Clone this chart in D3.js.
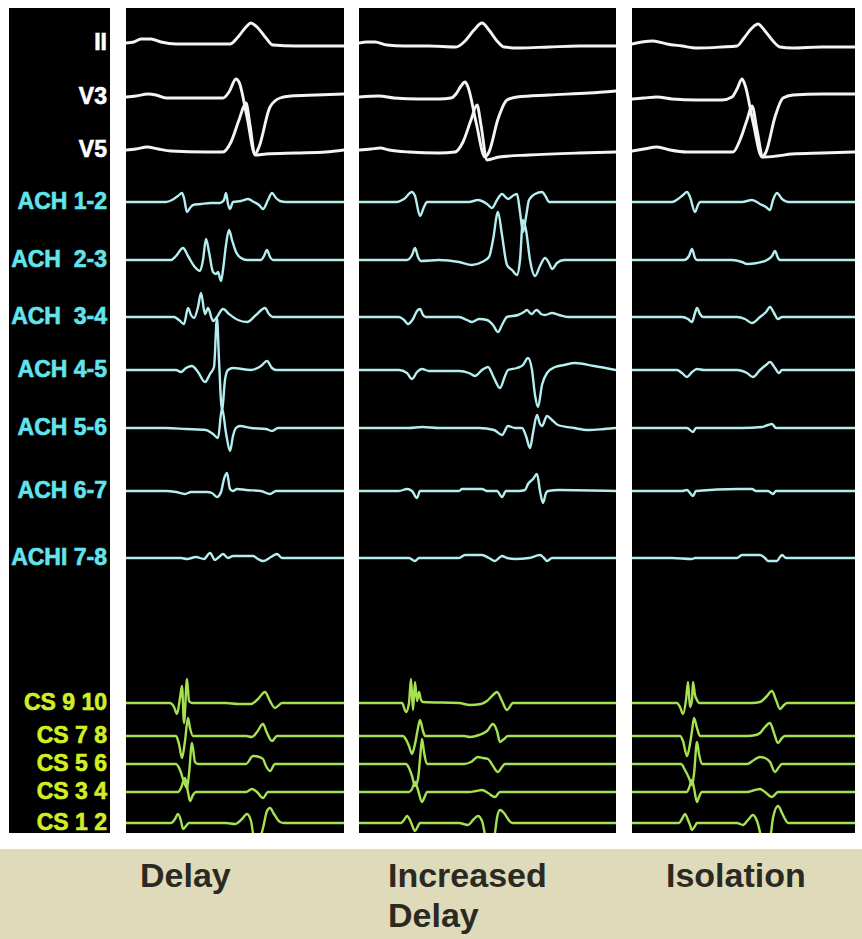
<!DOCTYPE html>
<html>
<head>
<meta charset="utf-8">
<script src="https://cdn.jsdelivr.net/npm/d3@7"></script>
<style>
body { margin: 0; background: #fff; }
svg { display: block; }
</style>
</head>
<body>
<svg id="chart" width="862" height="939"></svg>
<script>
// channel names, top to bottom
var channels = ["II", "V3", "V5", "ACH 1-2", "ACH  2-3", "ACH  3-4", "ACH 4-5", "ACH 5-6",
  "ACH 6-7", "ACHI 7-8", "CS 9 10", "CS 7 8", "CS 5 6", "CS 3 4", "CS 1 2"]
var channelGroup = ["ecg", "ecg", "ecg", "ach", "ach", "ach", "ach", "ach", "ach", "ach",
  "cs", "cs", "cs", "cs", "cs"]

var panelTitles = [["Delay"], ["Increased", "Delay"], ["Isolation"]]
var sweepMs = [218, 257, 223]

// each trace = list of [ms, amplitude] (one per channel)
var delayTraces = [
  [[0,0],[8,1],[15,4],[25,4],[35,1],[50,-1],[80,-1],[104,-1],[112,6],[120,16],[125,20],[131,16],[140,5],[147,-2],[170,-3],[190,-3],[218,-3]],
  [[0,0],[10,1],[22,3],[30,2],[40,-1],[70,-1],[97,-1],[103,5],[110,18],[113,15],[121,-20],[129,-57],[133,-50],[144,-10],[154,-1],[165,1],[190,2],[218,3]],
  [[0,0],[10,1],[21,3],[32,1],[45,-1],[80,-2],[97,-2],[105,8],[113,30],[120,47],[124,25],[129,-5],[140,-4],[170,-3],[200,-2],[218,0]],
  [[0,0],[40,0],[46,2],[52,6],[56,9],[58,4],[61,-10],[64,-6],[67,-3],[75,-2],[85,-1],[94,-1],[98,2],[100,9],[102,-2],[104,-7],[107,0],[115,1],[122,3],[128,0],[133,-3],[137,-7],[142,2],[146,9],[150,4],[154,1],[160,0],[218,0]],
  [[0,0],[45,0],[50,4],[57,12],[62,4],[68,-6],[74,-11],[77,0],[80,21],[83,8],[87,-12],[90,-14],[92,-12],[95,-21],[97,-10],[100,15],[103,30],[106,20],[110,8],[115,2],[121,0],[135,0],[138,4],[141,10],[144,3],[147,0],[218,0]],
  [[0,0],[48,0],[53,-3],[58,-7],[62,9],[65,2],[68,-1],[72,10],[75,24],[79,3],[82,9],[87,-4],[91,0],[97,8],[103,3],[112,-3],[121,-5],[130,2],[139,9],[143,3],[147,0],[218,0]],
  [[0,0],[50,0],[55,-2],[60,2],[66,4],[72,-2],[79,-12],[84,-4],[88,3],[91,52],[93,10],[96,-40],[99,-10],[102,0],[107,2],[125,0],[135,4],[141,9],[146,2],[150,0],[218,0]],
  [[0,0],[40,0],[60,-1],[80,-2],[87,-6],[92,-10],[96,20],[100,-5],[104,-23],[107,-8],[110,0],[114,2],[125,0],[140,-1],[146,-3],[152,0],[218,0]],
  [[0,0],[40,0],[50,-1],[59,-3],[65,-1],[81,-1],[86,-2],[91,-6],[95,-1],[98,12],[101,18],[104,2],[107,0],[111,2],[120,1],[135,0],[144,-3],[150,0],[218,0]],
  [[0,0],[40,0],[55,0],[61,-1],[70,1],[78,-1],[84,5],[89,-2],[93,1],[97,4],[102,0],[107,2],[127,2],[132,-1],[137,-3],[145,1],[151,4],[156,0],[218,0]],
  [[0,0],[44,0],[48,-4],[51,-11],[54,5],[56,17],[58,-20],[61,24],[63,2],[66,0],[100,0],[112,-1],[125,-1],[132,4],[139,11],[144,2],[149,-5],[156,0],[218,0]],
  [[0,0],[50,0],[53,-8],[56,-22],[59,-5],[62,18],[64,8],[67,0],[120,0],[126,-1],[131,4],[137,12],[141,3],[146,-5],[151,0],[218,0]],
  [[0,0],[50,0],[54,-6],[58,-18],[61,-24],[63,-10],[66,21],[69,2],[72,0],[120,0],[127,8],[133,7],[137,5],[140,-2],[144,-7],[149,0],[218,0]],
  [[0,0],[52,0],[55,4],[59,14],[62,0],[64,-9],[67,-3],[70,0],[120,0],[126,3],[131,0],[137,-6],[142,0],[218,0]],
  [[0,0],[45,0],[49,4],[52,9],[55,2],[57,-6],[60,-3],[63,0],[100,0],[109,-1],[116,4],[121,9],[125,2],[129,-20],[132,-20],[137,-5],[141,12],[144,15],[148,9],[154,1],[158,0],[218,0]]
]

var increasedTraces = [
  [[0,0],[8,1],[16,1],[28,-2],[45,-3],[70,-3],[97,-4],[105,1],[115,13],[123,20],[130,13],[138,2],[145,-4],[160,-5],[190,-4],[220,-3],[257,-3]],
  [[0,0],[20,1],[35,-1],[60,-2],[80,-2],[92,-1],[97,3],[102,11],[106,15],[109,10],[117,-25],[126,-60],[130,-55],[139,-22],[148,-3],[158,0],[190,2],[230,4],[257,6]],
  [[0,0],[12,1],[21,2],[30,0],[50,-2],[80,-3],[96,-2],[104,8],[112,30],[118,45],[122,25],[128,-10],[140,-7],[170,-5],[220,-3],[257,-2]],
  [[0,0],[38,0],[45,3],[53,10],[56,6],[61,-14],[65,-5],[68,0],[110,0],[119,2],[128,-2],[133,-6],[138,2],[143,8],[149,3],[155,7],[158,8],[161,-10],[164,-30],[167,-15],[170,2],[176,8],[183,10],[187,5],[190,0],[257,0]],
  [[0,0],[48,0],[53,5],[56,12],[59,3],[62,-1],[80,0],[100,-2],[113,-5],[123,-2],[130,3],[134,20],[139,48],[143,25],[148,-5],[153,-10],[158,-15],[161,0],[164,40],[167,30],[171,0],[176,-16],[181,-6],[186,2],[190,-3],[193,-9],[198,-3],[205,0],[257,0]],
  [[0,0],[40,0],[45,-3],[49,-7],[54,-2],[58,6],[61,8],[64,2],[67,0],[100,0],[108,-3],[113,-5],[120,-2],[128,-3],[134,-8],[139,-15],[143,-8],[148,0],[159,2],[165,5],[168,7],[171,4],[173,3],[176,6],[178,7],[182,3],[186,2],[193,4],[200,2],[209,0],[257,0]],
  [[0,0],[40,0],[48,-3],[53,-9],[58,-2],[63,1],[70,-1],[100,-1],[110,-3],[116,-6],[123,0],[129,3],[135,-8],[141,-18],[146,-6],[149,0],[158,2],[164,5],[169,12],[173,0],[176,-25],[179,-37],[183,-15],[188,-3],[196,3],[205,5],[216,7],[235,4],[257,0]],
  [[0,0],[50,0],[63,1],[80,0],[120,0],[135,-2],[143,-7],[149,2],[156,0],[163,0],[167,-8],[171,-20],[174,-5],[178,13],[181,4],[183,2],[188,12],[193,8],[199,3],[215,0],[229,-2],[245,-1],[257,0]],
  [[0,0],[40,0],[48,2],[53,0],[58,-7],[61,0],[100,0],[103,2],[123,2],[128,0],[138,0],[143,-6],[147,0],[160,0],[166,1],[169,7],[174,12],[178,17],[181,0],[184,-12],[187,-2],[189,0],[200,1],[257,0]],
  [[0,0],[50,0],[56,-3],[60,0],[100,0],[106,3],[123,3],[130,0],[136,-3],[140,0],[143,2],[148,0],[156,-1],[170,0],[181,3],[185,0],[188,-3],[193,0],[257,0]],
  [[0,0],[43,0],[47,-9],[50,0],[52,24],[54,-7],[56,21],[58,2],[60,11],[62,3],[64,1],[100,0],[111,-2],[122,-1],[128,2],[134,8],[138,11],[143,2],[148,-7],[154,0],[257,0]],
  [[0,0],[44,0],[46,-2],[50,-10],[53,-18],[56,-8],[59,8],[61,16],[64,5],[66,0],[105,0],[111,-1],[120,1],[128,5],[134,12],[138,5],[141,-6],[145,-3],[149,0],[257,0]],
  [[0,0],[47,0],[50,-4],[53,-12],[56,-22],[59,-15],[61,5],[63,25],[65,12],[68,0],[105,0],[112,2],[119,7],[124,6],[129,5],[134,-2],[139,-8],[143,-3],[146,0],[257,0]],
  [[0,0],[50,0],[53,3],[56,10],[59,2],[63,-10],[66,-4],[68,0],[110,0],[117,1],[123,2],[129,-1],[136,-5],[141,0],[257,0]],
  [[0,0],[42,0],[45,3],[48,7],[51,3],[53,-2],[56,-8],[59,-3],[61,0],[100,0],[109,-2],[114,3],[119,7],[123,2],[128,-20],[133,-25],[136,-10],[138,5],[141,13],[145,10],[149,4],[153,0],[257,0]]
]

var isolationTraces = [
  [[0,-1],[10,1],[21,2],[35,-1],[50,-3],[65,-5],[90,-4],[105,-3],[112,5],[120,15],[126,19],[133,12],[141,2],[148,-4],[160,-5],[190,-4],[223,-4]],
  [[0,-2],[12,-1],[25,0],[40,-2],[65,-3],[90,-3],[100,0],[105,8],[110,18],[113,12],[121,-25],[130,-60],[134,-55],[143,-20],[151,-1],[161,2],[190,3],[223,3]],
  [[0,-1],[12,1],[25,3],[38,0],[55,-2],[85,-2],[101,-2],[108,10],[115,30],[120,44],[125,20],[131,-7],[145,-6],[160,-4],[190,-3],[223,-2]],
  [[0,0],[40,0],[46,3],[51,7],[55,10],[58,5],[63,-10],[66,-3],[68,0],[110,0],[120,2],[128,-2],[134,-5],[138,-8],[141,2],[145,9],[150,3],[156,0],[223,0]],
  [[0,0],[52,0],[57,4],[60,11],[63,2],[65,0],[100,0],[110,-2],[115,-4],[125,-3],[135,0],[140,4],[143,9],[146,2],[148,0],[223,0]],
  [[0,0],[50,0],[56,-2],[60,-5],[63,4],[65,9],[68,3],[71,0],[105,0],[113,-2],[120,-6],[128,0],[134,5],[138,10],[142,4],[146,-2],[150,0],[223,0]],
  [[0,0],[45,0],[50,-3],[55,-7],[60,-2],[65,1],[72,0],[105,0],[115,-3],[121,-7],[128,0],[134,5],[138,8],[143,2],[147,-3],[150,0],[223,0]],
  [[0,0],[55,0],[61,-4],[64,0],[110,0],[130,1],[136,3],[140,4],[144,0],[223,0]],
  [[0,0],[50,0],[55,1],[58,-2],[61,-5],[64,0],[106,2],[120,2],[124,0],[136,0],[141,-3],[144,0],[223,0]],
  [[0,0],[40,0],[60,-1],[63,0],[105,0],[110,3],[128,3],[133,0],[136,-3],[145,-3],[148,1],[150,3],[154,0],[223,0]],
  [[0,0],[45,0],[48,-4],[51,-11],[54,3],[56,21],[58,-4],[60,3],[61,21],[63,8],[65,3],[67,0],[120,0],[128,1],[134,6],[140,12],[144,3],[148,-6],[152,-2],[155,0],[223,0]],
  [[0,0],[48,0],[51,-5],[55,-20],[58,-8],[60,5],[62,18],[65,8],[68,0],[115,0],[124,1],[128,3],[133,9],[138,13],[142,3],[146,-7],[150,-2],[153,0],[223,0]],
  [[0,0],[49,0],[53,-6],[57,-14],[60,-21],[62,-10],[65,22],[67,10],[70,0],[115,0],[122,4],[128,7],[133,6],[138,2],[143,-8],[147,-3],[150,0],[223,0]],
  [[0,0],[55,0],[57,4],[60,12],[62,4],[65,-10],[67,-5],[70,0],[115,0],[123,2],[128,3],[133,0],[140,-5],[146,0],[223,0]],
  [[0,0],[47,0],[50,4],[53,9],[56,3],[58,-2],[60,-7],[63,-3],[65,0],[105,0],[111,-2],[116,3],[121,8],[125,2],[131,-20],[136,-25],[139,-10],[141,5],[146,17],[150,10],[153,4],[156,0],[223,0]]
]

var allTraces = [delayTraces, increasedTraces, isolationTraces]

// layout
var svg = d3.select("#chart")
var plotTop = 8, plotBottom = 833
var labelBox = [9, 110]
var panelX = [[126, 344], [359, 616], [632, 855]]
var baseY = [43, 97, 150, 202, 260, 317, 370, 428, 491, 558, 703, 736, 764, 792, 823]
var titleX = [140, 388, 666]

var traceColor = {ecg: "#f4f4f4", ach: "#b4eef0", cs: "#a6e152"}
var labelColor = {ecg: "#ffffff", ach: "#62e4ec", cs: "#d2ef24"}
var traceWidth = {ecg: 2.9, ach: 2.4, cs: 2.4}

svg.append("rect").attr("width", 862).attr("height", 939).attr("fill", "#ffffff")

// bottom caption band
svg.append("rect").attr("x", 0).attr("y", 849).attr("width", 862).attr("height", 90).attr("fill", "#dfdab9")

// label column
var defs = svg.append("defs")
defs.append("clipPath").attr("id", "clip-label")
  .append("rect").attr("x", labelBox[0]).attr("y", plotTop)
  .attr("width", labelBox[1] - labelBox[0]).attr("height", plotBottom - plotTop)

svg.append("rect").attr("x", labelBox[0]).attr("y", plotTop)
  .attr("width", labelBox[1] - labelBox[0]).attr("height", plotBottom - plotTop).attr("fill", "#000")

svg.append("g").attr("clip-path", "url(#clip-label)")
  .selectAll("text").data(channels).join("text")
  .attr("x", 107)
  .attr("y", function(d, i){ return baseY[i] - 1 })
  .attr("dy", "0.36em")
  .attr("text-anchor", "end")
  .style("white-space", "pre")
  .attr("font-family", "'Liberation Sans', Arial, sans-serif")
  .attr("font-weight", "bold")
  .attr("font-size", 23)
  .attr("stroke", function(d, i){ return labelColor[channelGroup[i]] })
  .attr("stroke-width", 0.6)
  .attr("fill", function(d, i){ return labelColor[channelGroup[i]] })
  .text(function(d){ return d })

// the three recording panels
allTraces.forEach(function(traces, p){
  var x = d3.scaleLinear().domain([0, sweepMs[p]]).range(panelX[p])

  defs.append("clipPath").attr("id", "clip-" + p)
    .append("rect").attr("x", panelX[p][0]).attr("y", plotTop)
    .attr("width", panelX[p][1] - panelX[p][0]).attr("height", plotBottom - plotTop)

  svg.append("rect").attr("x", panelX[p][0]).attr("y", plotTop)
    .attr("width", panelX[p][1] - panelX[p][0]).attr("height", plotBottom - plotTop).attr("fill", "#000")

  var g = svg.append("g").attr("clip-path", "url(#clip-" + p + ")")

  traces.forEach(function(pts, i){
    var y = d3.scaleLinear().domain([-1, 1]).range([baseY[i] + 1, baseY[i] - 1])
    var line = d3.line()
      .x(function(d){ return x(d[0]) })
      .y(function(d){ return y(d[1]) })
      .curve(d3.curveMonotoneX)
    var grp = channelGroup[i]
    g.append("path")
      .attr("d", line(pts))
      .attr("fill", "none")
      .attr("stroke", traceColor[grp])
      .attr("stroke-width", traceWidth[grp])
      .attr("stroke-linejoin", "round")
      .attr("stroke-linecap", "round")
  })

  svg.append("text")
    .attr("x", titleX[p])
    .attr("y", 887)
    .attr("font-family", "'Liberation Sans', Arial, sans-serif")
    .attr("font-weight", "bold")
    .attr("font-size", 34)
    .attr("fill", "#2b2a22")
    .selectAll("tspan").data(panelTitles[p]).join("tspan")
    .attr("x", titleX[p])
    .attr("dy", function(d, k){ return k == 0 ? 0 : 40 })
    .text(function(d){ return d })
})
</script>
</body>
</html>
